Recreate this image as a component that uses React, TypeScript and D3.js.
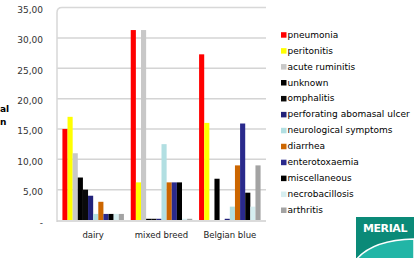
import React from "react";
import * as d3 from "d3";

const categories = ["dairy", "mixed breed", "Belgian blue"];
const seriesNames = [
  "pneumonia",
  "peritonitis",
  "acute ruminitis",
  "unknown",
  "omphalitis",
  "perforating abomasal ulcer",
  "neurological symptoms",
  "diarrhea",
  "enterotoxaemia",
  "miscellaneous",
  "necrobacillosis",
  "arthritis",
];
const pneumonia = [15, 31.3, 27.3];
const peritonitis = [17, 6.2, 16];
const acuteRuminitis = [11, 31.3, 0];
const unknown = [7, 0.2, 6.8];
const omphalitis = [5, 0.2, 0];
const perforating = [4, 0.2, 0.2];
const neurological = [1, 12.5, 2.2];
const diarrhea = [3, 6.2, 9];
const enterotoxaemia = [1, 6.2, 15.9];
const miscellaneous = [1, 6.2, 4.5];
const necrobacillosis = [1, 0.2, 2.2];
const arthritis = [1, 0.2, 9];
const seriesValues = [
  pneumonia, peritonitis, acuteRuminitis, unknown, omphalitis, perforating,
  neurological, diarrhea, enterotoxaemia, miscellaneous, necrobacillosis, arthritis,
];
const colors = [
  "#ff0000", "#ffff00", "#c8c8c8", "#000000", "#0a0a0a", "#22227a",
  "#b2dfe2", "#cc6600", "#2a2a8c", "#000000", "#d6eef0", "#a3a3a3",
];
const yTicks = [0, 5, 10, 15, 20, 25, 30, 35];
const yTickLabels = ["-", "5,00", "10,00", "15,00", "20,00", "25,00", "30,00", "35,00"];

export default function App() {
  const y = d3.scaleLinear().domain([0, 35]).range([220, 7.6]);
  const x0 = d3.scaleBand().domain(categories).range([59, 264]).paddingInner(0.1).paddingOuter(0.05);
  const x1 = d3.scaleBand().domain(seriesNames).range([0, x0.bandwidth()]);
  const font = "'DejaVu Sans', Verdana, sans-serif";
  const legendY = d3.scaleLinear().domain([0, 11]).range([34.7, 210]);

  return (
    <svg width={414} height={258} style={{ position: "absolute", left: 0, top: 0, background: "#fff" }} fontFamily={font}>
      {/* gridlines */}
      {yTicks.filter((t) => t > 0 && t < 35).map((t) => (
        <line key={t} x1={57} x2={266} y1={y(t)} y2={y(t)} stroke="#d4d4d4" strokeWidth={1.5} />
      ))}
      <path d={`M57,222 L57,${y(35) + 5} Q57,${y(35)} 62,${y(35)} L266,${y(35)}`} fill="none" stroke="#d8d8d8" strokeWidth={1.5} />
      <line x1={57} x2={266} y1={221} y2={221} stroke="#cfcfcf" strokeWidth={1.5} />
      {/* y labels */}
      {yTicks.map((t, i) => (
        <text key={t} x={43} y={y(t) + 3} textAnchor="end" dominantBaseline="middle" fontSize={9} fill="#333">
          {yTickLabels[i]}
        </text>
      ))}
      {/* axis title fragment */}
      <text x={0} y={112} fontSize={9} fontWeight="bold" fill="#000">al</text>
      <text x={0} y={125} fontSize={9} fontWeight="bold" fill="#000">n</text>
      {/* bars */}
      {seriesValues.map((vals, si) =>
        vals.map((v, ci) => (
          <rect
            key={`${si}-${ci}`}
            x={(x0(categories[ci]) as number) + (x1(seriesNames[si]) as number)}
            y={y(v)}
            width={x1.bandwidth()}
            height={y(0) - y(v)}
            fill={colors[si]}
          />
        ))
      )}
      {/* category labels */}
      {categories.map((c) => (
        <text key={c} x={(x0(c) as number) + x0.bandwidth() / 2} y={238} textAnchor="middle" fontSize={8.5} fill="#222">
          {c}
        </text>
      ))}
      {/* legend */}
      {seriesNames.map((s, i) => (
        <g key={s} transform={`translate(281,${legendY(i)})`}>
          <rect x={0} y={-2.5} width={5.5} height={5.5} fill={colors[i]} />
          <text x={6.5} y={0.5} dominantBaseline="middle" fontSize={9} fill="#000">{s}</text>
        </g>
      ))}
      {/* logo */}
      <g>
        <rect x={356} y={217} width={58} height={45} fill="#0b8a78" />
        <text x={385} y={232} textAnchor="middle" fontSize={11} fontWeight="bold" fill="#fff" letterSpacing={-0.4}>MERIAL</text>
        <path d="M356,260 Q372,240 414,239 L414,260 Z" fill="#22b5a6" stroke="#ffffff" strokeWidth={1.5} />
      </g>
    </svg>
  );
}
